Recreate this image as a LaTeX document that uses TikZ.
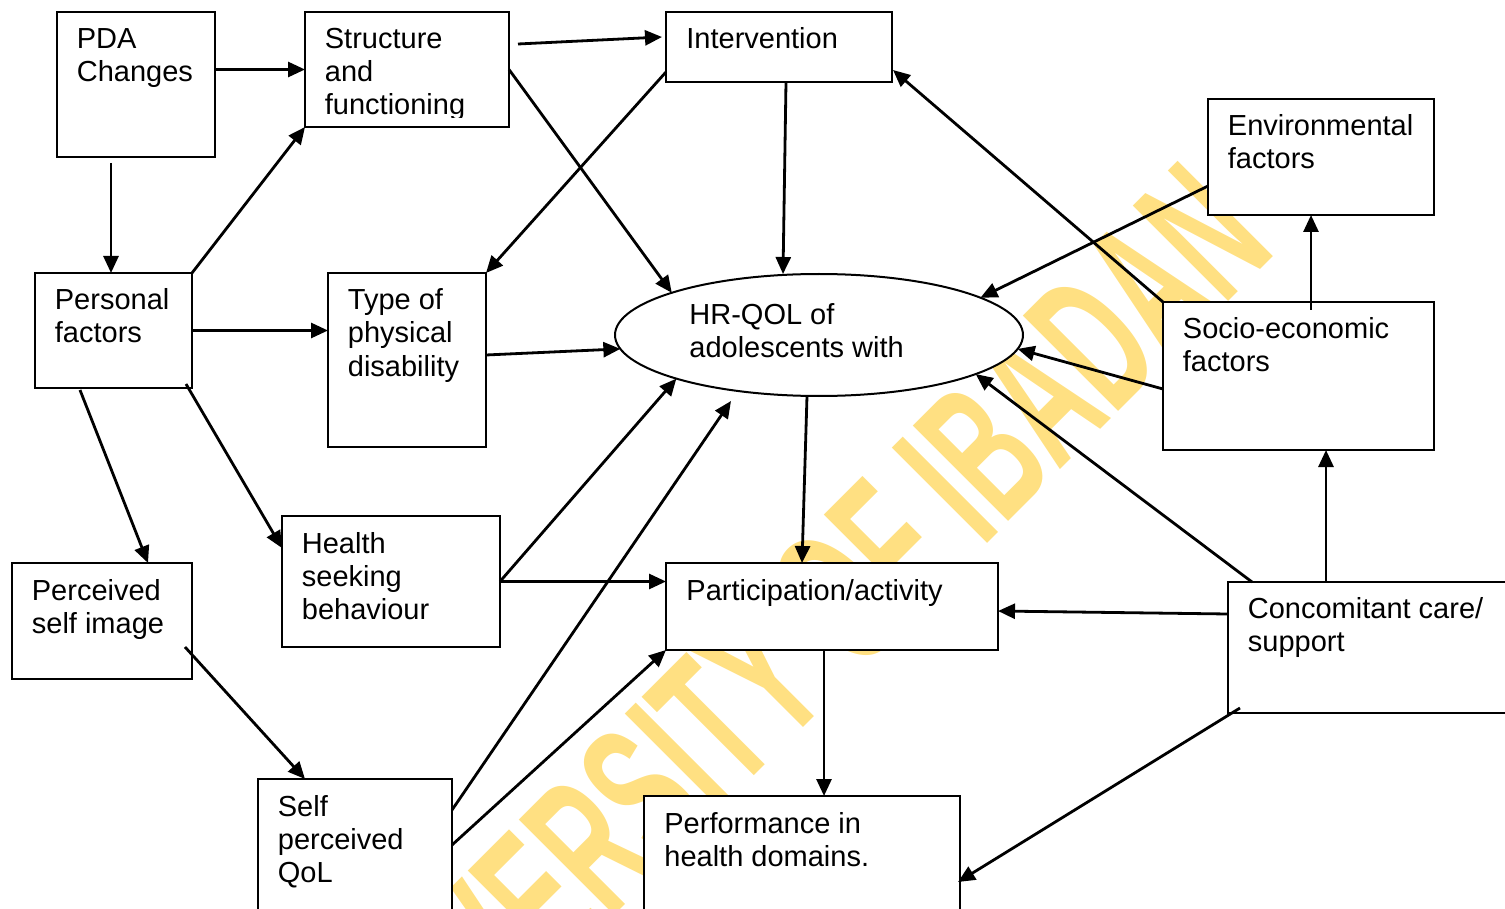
\documentclass[tikz,border=0pt]{standalone}
\usepackage{fontspec}
\setmainfont{Liberation Sans}
\usepackage{graphicx}
\usepackage{xcolor}
\usetikzlibrary{calc}
\usetikzlibrary{shapes.geometric}
\usetikzlibrary{arrows.meta}
\definecolor{stampyellow}{RGB}{255,224,130}
% lines of a box text, baseline on the first line
\newcommand{\factortext}[1]{\begin{tabular}[t]{@{}l@{}}#1\end{tabular}}

\begin{document}
\begin{tikzpicture}[x=0.5pt,y=-0.5pt,
        factor/.style={draw,fill=white,line width=1pt,anchor=north west,inner sep=0pt,outer sep=0pt},
        caption/.style={anchor=base west,inner sep=0pt,font=\fontsize{14.5}{16.5}\selectfont},
        link/.style={line width=1.4pt,-{Triangle[length=8.5pt,width=7.5pt]}}]
    \clip (0,0) rectangle (1505,909);
    % watermark behind everything
    \node[text=stampyellow,rotate=45,inner sep=0pt,font=\fontsize{98}{98}\selectfont\bfseries] (stamp) at (780,655) {\scalebox{0.55}[1]{UNIVERSITY OF IBADAN}};
    % boxes
    \node[factor,minimum width=79pt,minimum height=72.5pt] (pda) at (57,12) {};
    \node[factor,minimum width=102pt,minimum height=57.5pt] (struct) at (305,12) {};
    \node[factor,minimum width=113pt,minimum height=35pt] (interv) at (666,12) {};
    \node[factor,minimum width=113pt,minimum height=58pt] (env) at (1208,99) {};
    \node[factor,minimum width=78.5pt,minimum height=57.5pt] (pers) at (35,273) {};
    \node[factor,minimum width=79pt,minimum height=87pt] (type) at (328,273) {};
    \node[draw,fill=white,line width=1pt,ellipse,inner sep=0pt,outer sep=0pt,minimum width=204pt,minimum height=61pt] (hrqol) at (819,335) {};
    \node[factor,minimum width=135.5pt,minimum height=74pt] (socio) at (1163,302) {};
    \node[factor,minimum width=109pt,minimum height=65.5pt] (health) at (282,516) {};
    \node[factor,minimum width=166pt,minimum height=43.5pt] (part) at (666,563) {};
    \node[factor,minimum width=145pt,minimum height=65.5pt] (conc) at (1228,582) {};
    \node[factor,minimum width=90pt,minimum height=58pt] (perc) at (12,563) {};
    \node[factor,minimum width=97pt,minimum height=70pt] (self) at (258,779) {};
    \node[factor,minimum width=158pt,minimum height=62pt] (perf) at (644,796) {};
    % texts
    \node[caption] (pda-t) at ($(pda.north west)+(19.5,37)$) {\factortext{PDA\\Changes}};
    \begin{scope}
        \clip (struct.north west) rectangle ($(struct.south east)+(0,-9)$);
        \node[caption] (struct-t) at ($(struct.north west)+(19.5,37)$) {\factortext{Structure\\and\\functioning}};
    \end{scope}
    \node[caption] (interv-t) at ($(interv.north west)+(20,37)$) {Intervention};
    \node[caption] (env-t) at ($(env.north west)+(19.5,37)$) {\factortext{Environmental\\factors}};
    \node[caption] (pers-t) at ($(pers.north west)+(19.5,37)$) {\factortext{Personal\\factors}};
    \node[caption] (type-t) at ($(type.north west)+(19.5,37)$) {\factortext{Type of\\physical\\disability}};
    \node[caption] (hrqol-t) at ($(hrqol.north)+(-130,51)$) {\factortext{HR-QOL of\\adolescents with}};
    \node[caption] (socio-t) at ($(socio.north west)+(19.5,36.5)$) {\factortext{Socio-economic\\factors}};
    \node[caption] (health-t) at ($(health.north west)+(19.5,37)$) {\factortext{Health\\seeking\\behaviour}};
    \node[caption] (part-t) at ($(part.north west)+(20,37)$) {Participation/activity};
    \node[caption] (conc-t) at ($(conc.north west)+(19.5,36.5)$) {\factortext{Concomitant care/\\support}};
    \node[caption] (perc-t) at ($(perc.north west)+(19.5,37)$) {\factortext{Perceived\\self image}};
    \node[caption] (self-t) at ($(self.north west)+(19.5,37)$) {\factortext{Self\\perceived\\QoL}};
    \node[caption] (perf-t) at ($(perf.north west)+(20,37)$) {\factortext{Performance in\\health domains.}};
    % connectors
    \draw[link] (pda.east |- struct.west) -- (struct.west);
    \draw[link] ($(pda.south)+(-25,6)$) -- ($(pers.north)+(-2.5,0)$);
    \draw[link] (pers.north east) -- (struct.south west);
    \draw[link] ($(struct.north east)+(9,32)$) -- ($(interv.west)+(-4,-10)$);
    \draw[link] (struct.east) -- (hrqol.164);
    \draw[link] ($(interv.south west)+(0,-10)$) -- (type.north east);
    \draw[link] ($(interv.south)+(7,0)$) -- ($(hrqol.north)+(-36,0)$);
    \draw[link] (socio.north west) -- ($(interv.south east)+(1,-12)$);
    \draw[link] ($(env.west)+(0,29)$) -- (hrqol.13);
    \draw[link] ($(socio.north)+(12.5,8)$) -- ($(env.south)+(-10,0)$);
    \draw[link] ($(socio.west)+(0,13)$) -- (hrqol.356);
    \draw[link] ($(conc.north west)+(24,0)$) -- (hrqol.346);
    \draw[link] ($(conc.north west)+(98,0)$) -- ($(socio.south)+(27.5,0)$);
    \draw[link] ($(conc.north west)+(0,32)$) -- ($(part.north east)+(0,48)$);
    \draw[link] ($(conc.south west)+(12,-5)$) -- ($(perf.north east)+(-2,86)$);
    \draw[link] (pers.east) -- (pers.east -| type.west);
    \draw[link] ($(pers.south east)+(-6,-4)$) -- ($(health.north west)+(0,32)$);
    \draw[link] ($(pers.south west)+(45,2)$) -- ($(perc.north west)+(136,0)$);
    \draw[link] ($(type.east)+(0,-5)$) -- (hrqol.184);
    \draw[link] (health.east) -- (hrqol.197);
    \draw[link] (health.east) -- (health.east -| part.west);
    \draw[link] ($(perc.east)+(-7,26)$) -- ($(self.north west)+(47,0)$);
    \draw[link] ($(self.north east)+(0,31)$) -- ($(hrqol.south)+(-88,5)$);
    \draw[link] ($(self.north east)+(0,66)$) -- (part.south west);
    \draw[link] ($(hrqol.south)+(-12,0)$) -- ($(part.north west)+(136,0)$);
    \draw[link] ($(part.south)+(-8,0)$) -- ($(perf.north)+(22,0)$);
\end{tikzpicture}
\end{document}
